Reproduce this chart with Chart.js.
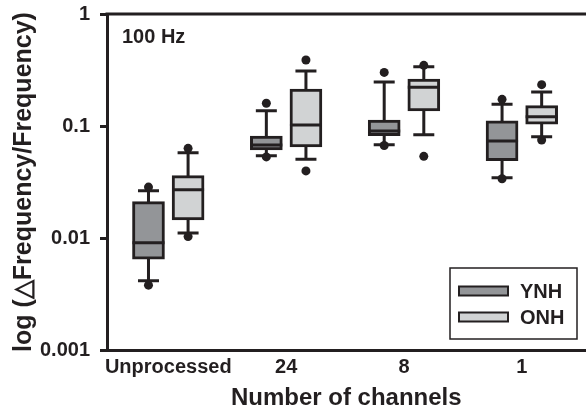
<!DOCTYPE html>
<html>
<head>
<meta charset="utf-8">
<script src="https://cdn.jsdelivr.net/npm/chart.js@4"></script>
<style>
  html, body { margin: 0; padding: 0; overflow: hidden; background: #fff; }
  canvas { display: block; }
</style>
</head>
<body>
<canvas id="grafico" width="590" height="415"></canvas>
<script>
// categorias y valores
const categorias = ['Unprocessed', '24', '8', '1'];
const yTicks = [0.001, 0.01, 0.1, 1];

// YNH
const ynhMin = [0.00416, 0.0543, 0.0681, 0.0345];
const ynhQ1 = [0.00646, 0.0610, 0.0819, 0.049];
const ynhMed = [0.00908, 0.0677, 0.0902, 0.0735];
const ynhQ3 = [0.0211, 0.0814, 0.113, 0.1115];
const ynhMax = [0.0264, 0.137, 0.247, 0.156];
const ynhOut = [[0.00379, 0.0285], [0.053, 0.1595], [0.067, 0.301], [0.0338, 0.173]];

// ONH
const onhMin = [0.0111, 0.0504, 0.0836, 0.0802];
const onhQ1 = [0.0145, 0.0650, 0.136, 0.104];
const onhMed = [0.0270, 0.102, 0.222, 0.121];
const onhQ3 = [0.0360, 0.214, 0.263, 0.152];
const onhMax = [0.0578, 0.310, 0.338, 0.201];
const onhOut = [[0.0103, 0.0632], [0.0397, 0.388], [0.0536, 0.348], [0.075, 0.234]];

const negro = '#231f20';
const grisOscuro = '#939598';
const grisClaro = '#d1d3d4';
const desplaz = 0.168; // separacion de las cajas respecto al centro

Chart.defaults.font.family = "'Liberation Sans', Arial, sans-serif";
Chart.defaults.font.weight = 'bold';
Chart.defaults.color = negro;

const series = [
  { label: 'YNH', fill: grisOscuro, off: -desplaz, min: ynhMin, q1: ynhQ1, med: ynhMed, q3: ynhQ3, max: ynhMax, out: ynhOut },
  { label: 'ONH', fill: grisClaro, off: desplaz, min: onhMin, q1: onhQ1, med: onhMed, q3: onhQ3, max: onhMax, out: onhOut }
];

const datasets = [];
series.forEach(s => {
  datasets.push({
    type: 'bar',
    label: s.label,
    data: categorias.map((c, i) => ({ x: i + s.off, y: [s.q1[i], s.q3[i]] })),
    backgroundColor: s.fill,
    borderColor: negro,
    borderWidth: 3,
    borderSkipped: false,
    barThickness: 32,
    grouped: false,
    order: 2
  });
});
series.forEach(s => {
  const puntos = [];
  s.out.forEach((par, i) => par.forEach(v => puntos.push({ x: i + s.off, y: v })));
  datasets.push({
    type: 'scatter',
    label: s.label + ' extremos',
    data: puntos,
    pointRadius: 4.5,
    pointBackgroundColor: negro,
    pointBorderWidth: 0,
    order: 1
  });
});

// bigotes (debajo de las cajas)
const bigotes = {
  id: 'bigotes',
  beforeDatasetsDraw(chart) {
    const { ctx, scales: { x, y } } = chart;
    ctx.save();
    ctx.strokeStyle = negro;
    ctx.lineWidth = 3;
    series.forEach(s => {
      categorias.forEach((c, i) => {
        const px = x.getPixelForValue(i + s.off);
        const yMin = y.getPixelForValue(s.min[i]);
        const yMax = y.getPixelForValue(s.max[i]);
        ctx.beginPath();
        ctx.moveTo(px, yMin); ctx.lineTo(px, yMax);
        ctx.moveTo(px - 10.5, yMin); ctx.lineTo(px + 10.5, yMin);
        ctx.moveTo(px - 10.5, yMax); ctx.lineTo(px + 10.5, yMax);
        ctx.stroke();
      });
    });
    ctx.restore();
  },
  afterDatasetsDraw(chart) {
    // medianas
    const { ctx, scales: { x, y } } = chart;
    ctx.save();
    ctx.strokeStyle = negro;
    ctx.lineWidth = 3;
    series.forEach(s => {
      categorias.forEach((c, i) => {
        const px = x.getPixelForValue(i + s.off);
        const py = y.getPixelForValue(s.med[i]);
        ctx.beginPath();
        ctx.moveTo(px - 16, py); ctx.lineTo(px + 16, py);
        ctx.stroke();
      });
    });
    ctx.restore();
  },
  afterDraw(chart) {
    const { ctx, chartArea: a } = chart;
    ctx.save();
    // linea superior del marco
    ctx.strokeStyle = negro;
    ctx.lineWidth = 3;
    ctx.beginPath();
    ctx.moveTo(a.left - 1.5, a.top);
    ctx.lineTo(a.right + 2, a.top);
    ctx.stroke();

    // texto 100 Hz
    ctx.fillStyle = negro;
    ctx.font = "bold 20px 'Liberation Sans', Arial, sans-serif";
    ctx.textBaseline = 'middle';
    ctx.textAlign = 'left';
    ctx.fillText('100 Hz', 122, 37);

    // leyenda con marco
    ctx.lineWidth = 1.5;
    ctx.strokeRect(450, 268, 127, 71);
    series.forEach((s, k) => {
      const yy = 291 + k * 26;
      ctx.fillStyle = s.fill;
      ctx.fillRect(459, yy - 4.5, 49, 9);
      ctx.lineWidth = 2;
      ctx.strokeRect(459, yy - 4.5, 49, 9);
      ctx.fillStyle = negro;
      ctx.fillText(s.label, 520, yy + 1);
    });
    ctx.restore();
  }
};

const ctx = document.getElementById('grafico').getContext('2d');
const grafico = new Chart(ctx, {
  data: { datasets: datasets },
  options: {
    responsive: false,
    animation: false,
    layout: { padding: { top: 14, right: 0, bottom: 0, left: 0 } },
    plugins: {
      legend: { display: false },
      tooltip: { enabled: false }
    },
    scales: {
      x: {
        type: 'linear',
        min: -0.52,
        max: 3.54,
        offset: false,
        afterFit: s => { s.height = 65; },
        afterBuildTicks: s => { s.ticks = categorias.map((c, i) => ({ value: i })); },
        ticks: {
          autoSkip: false,
          maxRotation: 0,
          padding: 5,
          font: { size: 20, weight: 'bold' },
          color: negro,
          callback: v => categorias[v]
        },
        grid: { display: false, drawTicks: false },
        border: { display: true, color: negro, width: 3 },
        title: {
          display: true,
          text: 'Number of channels',
          font: { size: 24, weight: 'bold' },
          color: negro,
          padding: { top: 0, bottom: 2 }
        }
      },
      y: {
        type: 'logarithmic',
        min: 0.001,
        max: 1,
        afterFit: s => { s.width = 107; s.paddingTop = 0; },
        afterBuildTicks: s => { s.ticks = yTicks.map(v => ({ value: v })); },
        ticks: {
          padding: 10,
          font: { size: 20, weight: 'bold' },
          color: negro,
          callback: v => String(v)
        },
        grid: {
          display: true,
          drawOnChartArea: false,
          drawTicks: true,
          tickLength: 7,
          lineWidth: 3,
          color: negro
        },
        border: { display: true, color: negro, width: 3 },
        title: {
          display: true,
          text: 'log (\u25B3Frequency/Frequency)',
          font: { size: 25, weight: 'bold' },
          color: negro,
          padding: { top: 9, bottom: 0 }
        }
      }
    }
  },
  plugins: [bigotes]
});
</script>
</body>
</html>
